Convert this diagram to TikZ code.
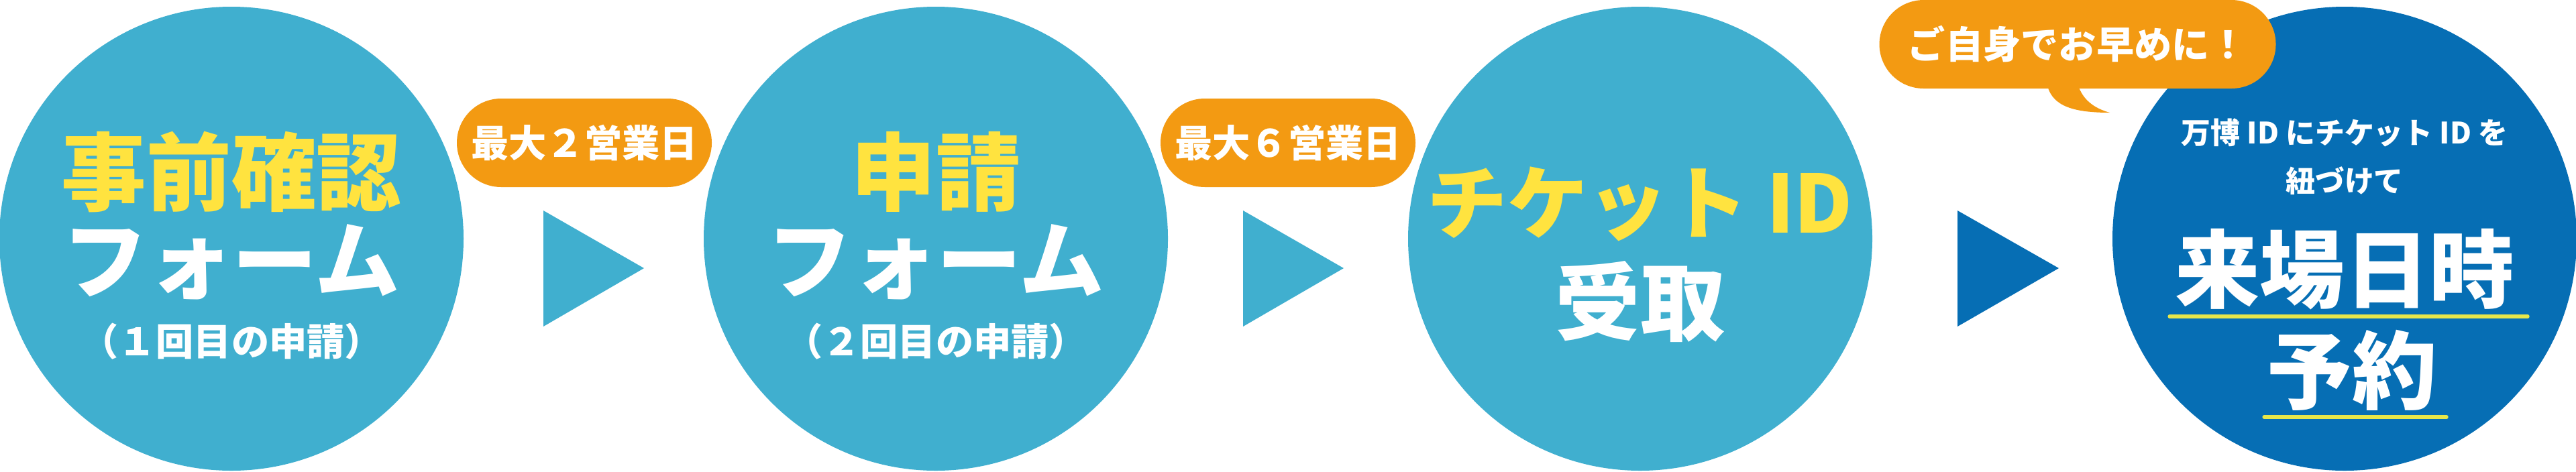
\documentclass[tikz,border=0pt]{standalone}
\usepackage{fontspec}
\setmainfont{Noto Sans CJK JP}
\usetikzlibrary{positioning}

\definecolor{sky}{HTML}{40AFCF}
\definecolor{navy}{HTML}{066EB4}
\definecolor{amber}{HTML}{F39A12}
\definecolor{lemon}{HTML}{FFE33F}
\definecolor{lime}{HTML}{E6E64A}

\begin{document}
\begin{tikzpicture}[node distance=10.5cm,on grid,
    round/.style={circle,minimum size=6.92cm,inner sep=0pt},
    pill/.style={fill=amber,rounded corners=0.66cm,minimum width=3.8cm,minimum height=1.32cm,
      text=white,font=\bfseries\fontsize{16}{18}\selectfont},
    title/.style={font=\bfseries\fontsize{36}{40}\selectfont},
    sub/.style={text=white,font=\bfseries\fontsize{16}{18}\selectfont},
    small/.style={text=white,font=\bfseries\fontsize{12.5}{14}\selectfont},
    uline/.style={draw=lime,line width=1.5pt,line cap=round}]
      \useasboundingbox (0,0) rectangle (38.4,7.03);

      \node[round,fill=sky] (c_1) at (3.45,3.47) {};
      \node[round,fill=sky] (c_2) [right=of c_1] {};
      \node[round,fill=sky] (c_3) [right=of c_2] {};
      \node[round,fill=navy] (c_4) [right=of c_3] {};

      % arrows between the steps
      \fill[sky] (8.10,3.89) -- (8.10,2.16) -- (9.60,3.03) -- cycle;
      \fill[sky] (18.53,3.89) -- (18.53,2.16) -- (20.03,3.03) -- cycle;
      \fill[navy] (29.18,3.89) -- (29.18,2.16) -- (30.69,3.03) -- cycle;

      \node[pill] (p_1) at (8.71,4.90) {最大２営業日};
      \node[pill] (p_2) at (19.20,4.90) {最大６営業日};

      % speech bubble
      \fill[amber] (30.52,5.75) .. controls (30.60,5.45) and (30.90,5.35) .. (31.45,5.35)
            .. controls (31.20,5.42) and (31.05,5.55) .. (30.98,5.75) -- cycle;
      \node[pill,minimum width=5.91cm] (b_1) at (30.97,6.37) {ご自身でお早めに！};

      \node[title,text=lemon] (t_1) [above=1.00cm of c_1] {事前確認};
      \node[title,text=white] (f_1) [below=0.35cm of c_1] {フォーム};
      \node[sub] (s_1) [below=1.53cm of c_1] {（１回目の申請）};

      \node[title,text=lemon] (t_2) [above=1.00cm of c_2] {申請};
      \node[title,text=white] (f_2) [below=0.35cm of c_2] {フォーム};
      \node[sub] (s_2) [below=1.53cm of c_2] {（２回目の申請）};

      \node[title,text=lemon,font=\bfseries\fontsize{34}{38}\selectfont] (t_3) [above=0.52cm of c_3] {チケット ID};
      \node[title,text=white] (f_3) [below=0.94cm of c_3] {受取};

      \node[small] (l_1) [above=1.58cm of c_4] {万博 ID にチケット ID を};
      \node[small] (l_2) [above=0.86cm of c_4] {紐づけて};
      \node[title,text=white] (t_4) [below=0.46cm of c_4] {来場日時};
      \node[title,text=white] (r_4) [below right=1.96cm and 0.11cm of c_4] {予約};
      \draw[uline] ([xshift=-2.61cm,yshift=-1.16cm]c_4.center) -- ([xshift=2.73cm,yshift=-1.16cm]c_4.center);
      \draw[uline] ([xshift=-1.20cm,yshift=-2.66cm]c_4.center) -- ([xshift=1.52cm,yshift=-2.66cm]c_4.center);
    \end{tikzpicture}
\end{document}
